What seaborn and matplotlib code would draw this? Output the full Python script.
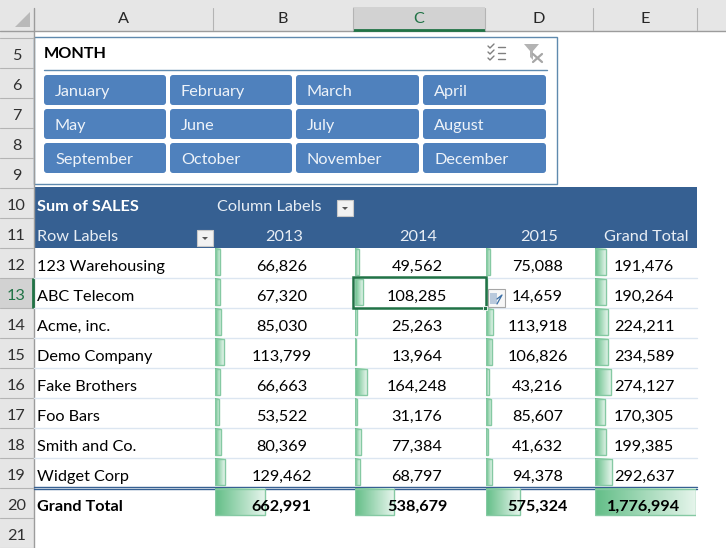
import numpy as np
import pandas as pd
import matplotlib
matplotlib.use("Agg")
import matplotlib.pyplot as plt
import seaborn as sns
from matplotlib.colors import LinearSegmentedColormap
from matplotlib.patches import FancyBboxPatch, Rectangle, Polygon

# --- data ---
companies = ["123 Warehousing", "ABC Telecom", "Acme, inc.", "Demo Company", "Fake Brothers",
             "Foo Bars", "Smith and Co.", "Widget Corp", "Grand Total"]
sales_2013 = [66826, 67320, 85030, 113799, 66663, 53522, 80369, 129462, 662991]
sales_2014 = [49562, 108285, 25263, 13964, 164248, 31176, 77384, 68797, 538679]
sales_2015 = [75088, 14659, 113918, 106826, 43216, 85607, 41632, 94378, 575324]
grand_total = [191476, 190264, 224211, 234589, 274127, 170305, 199385, 292637, 1776994]
year_labels = ["2013", "2014", "2015", "Grand Total"]
months = ["January", "February", "March", "April", "May", "June", "July", "August",
          "September", "October", "November", "December"]
col_letters = ["A", "B", "C", "D", "E"]
row_numbers = list(range(5, 22))

W, H = 726, 548
sns.set_theme(style="white")
plt.rcParams["font.family"] = ["Lato", "DejaVu Sans"]
FS = 11.7

df = pd.DataFrame({"company": companies, "2013": sales_2013, "2014": sales_2014,
                   "2015": sales_2015, "Grand Total": grand_total})

fig = plt.figure(figsize=(W / 100, H / 100), dpi=100, facecolor="white")


def pixel_axes(z):
    a = fig.add_axes([0, 0, 1, 1], zorder=z)
    a.set_xlim(0, W)
    a.set_ylim(H, 0)
    a.axis("off")
    a.patch.set_alpha(0)
    return a


back = pixel_axes(0)
top = pixel_axes(10)

# === sheet headers ===
head_col = "#e6e6e6"
head_line = "#b4b4b4"
back.add_patch(Rectangle((0, 0), W, 30.5, fc=head_col, ec="none"))
back.add_patch(Rectangle((0, 30), 33.5, H - 30, fc=head_col, ec="none"))
back.plot([0, W], [30.5, 30.5], color="#9c9c9c", lw=1)
back.plot([33.5, 33.5], [8, H], color="#9c9c9c", lw=1)
back.add_patch(Polygon([[30, 12], [30, 27], [15, 27]], fc="#b9b9b9", ec="none"))

col_edges = [33.5, 213, 353, 485, 593, 697]
back.add_patch(Rectangle((353, 7), 132, 23, fc="#d2d2d2", ec="none"))
back.plot([353, 485], [29.5, 29.5], color="#217346", lw=2, solid_capstyle="butt")
for xe in col_edges[1:]:
    back.plot([xe, xe], [8, 30], color=head_line, lw=0.8)
for i, letter in enumerate(col_letters):
    xc = (col_edges[i] + col_edges[i + 1]) / 2
    back.text(xc, 19, letter, ha="center", va="center", fontsize=FS,
              color="#217346" if letter == "C" else "#262626")

row_top = [37.6 + 30 * i for i in range(17)]
back.plot([0, 33], [37.6, 37.6], color=head_line, lw=0.8)
back.add_patch(Rectangle((0, row_top[8]), 33, 30, fc="#d2d2d2", ec="none"))
for i, num in enumerate(row_numbers):
    y0 = row_top[i]
    back.plot([0, 33], [y0 + 30, y0 + 30], color=head_line, lw=0.8)
    back.text(16.5, y0 + 18, str(num), ha="center", va="center", fontsize=FS,
              color="#217346" if num == 13 else "#303030")
back.plot([33, 33], [row_top[8], row_top[8] + 30], color="#217346", lw=2, solid_capstyle="butt")

# === slicer ===
frame = "#5f8aae"
back.add_patch(Rectangle((33.5, 36.5), 523.7, 147.7, fc="white", ec=frame, lw=1))
back.text(44, 54.5, "MONTH", fontsize=FS, fontweight="bold", va="center", color="black")
back.plot([44, 547], [69.5, 69.5], color=frame, lw=1)
btn_x = [44, 170, 296, 423]
btn_w = [122, 122, 123, 123]
btn_y = [75, 109, 143]
for i, month in enumerate(months):
    r, c = i // 4, i % 4
    back.add_patch(FancyBboxPatch((btn_x[c] + 2, btn_y[r] + 2), btn_w[c] - 4, 26,
                                  boxstyle="round,pad=2,rounding_size=3", fc="#4f81bd", ec="none"))
    back.text(btn_x[c] + 11, btn_y[r] + 17, month, fontsize=FS, va="center", color="#eef3f9")

# checklist icon
for yy in (47, 53, 59):
    back.plot([498, 505], [yy, yy], color="#7f7f7f", lw=1)
    back.plot([488, 490, 494], [yy - 1, yy + 1, yy - 3], color="#7f7f7f", lw=1)
# clear filter icon
back.add_patch(Polygon([[524, 44], [539, 44], [533, 51], [533, 60], [530, 57], [530, 51]],
                       fc="#b3b3b3", ec="none"))
back.plot([533, 542], [54, 62], color="#a6a6a6", lw=1.6)
back.plot([533, 542], [62, 54], color="#a6a6a6", lw=1.6)

# === pivot header ===
pivot = "#366092"
back.add_patch(Rectangle((33.5, 187), 663.5, 61, fc=pivot, ec="none"))
back.text(37, 207, "Sum of SALES", fontsize=FS, fontweight="bold", color="white", va="center")
back.text(217, 207, "Column Labels", fontsize=FS, color="#e8eef5", va="center")
back.text(37, 237, "Row Labels", fontsize=FS, color="#e8eef5", va="center")

head_cx = [284, 418, 539, 646]
cell_cx = [281.5, 417, 537.5, 644]
for xc, label in zip(head_cx, year_labels):
    back.text(xc, 237, label, ha="center", va="center", fontsize=FS, color="#e8eef5")

for bx, by in [(337, 200), (197, 230)]:
    back.add_patch(Rectangle((bx, by), 16, 16, fc="#f2f2f2", ec="#c8c8c8", lw=0.8))
    back.add_patch(Polygon([[bx + 5, by + 7], [bx + 11, by + 7], [bx + 8, by + 10]], fc="#555555", ec="none"))

# === pivot body ===
row_h = 30
body_top = 248
for i, name in enumerate(companies):
    yc = body_top + row_h * i + 15
    bold = name == "Grand Total"
    if i < 7:
        back.plot([33.5, 697], [yc + 15, yc + 15], color="#dce6f1", lw=1)
    top.text(37, yc + 4, name, fontsize=FS, va="center", color="black",
             fontweight="bold" if bold else "normal")
back.plot([33.5, 697], [487, 487], color="#366092", lw=1)
back.plot([33.5, 697], [489.3, 489.3], color="#366092", lw=1)

# === data bars, one small axes per column ===
bar_left = [215, 355, 486, 595]
bar_full = [134, 128, 104, 101]
green_fade = LinearSegmentedColormap.from_list("fade", ["#63be87", "#e6f5ec"])
gradient = np.linspace(0, 1, 128).reshape(1, -1)

for col, x0, full, xc in zip(year_labels, bar_left, bar_full, cell_cx):
    ax = fig.add_axes([x0 / W, 1 - (body_top - 1 + 9 * row_h) / H, full / W, 9 * row_h / H], zorder=5)
    sns.barplot(data=df, x=col, y="company", order=companies, ax=ax, width=0.87,
                color="#63be87", errorbar=None)
    ax.set_xlim(0, grand_total[-1])
    ylim = ax.get_ylim()
    for bar in ax.patches:
        bx, by, bw, bh = bar.get_x(), bar.get_y(), bar.get_width(), bar.get_height()
        ax.imshow(gradient, extent=[bx, bx + bw, by + bh, by], aspect="auto", cmap=green_fade,
                  vmin=0, vmax=1, zorder=1, interpolation="bilinear")
        bar.set_facecolor("none")
        bar.set_edgecolor("#85c9a3")
        bar.set_linewidth(1)
        bar.set_zorder(2)
    ax.set_xlim(0, grand_total[-1])
    ax.set_ylim(ylim)
    ax.axis("off")
    ax.patch.set_alpha(0)

    for i, val in enumerate(df[col]):
        top.text(xc, body_top + row_h * i + 19, f"{val:,}", ha="center", va="center", fontsize=FS,
                 color="black", fontweight="bold" if i == 8 else "normal")

# selected cell and quick analysis button
top.add_patch(Rectangle((353, 277), 132.5, 31, fc="none", ec="#217346", lw=1.8))
top.add_patch(Rectangle((482.5, 305.5), 4.5, 4.5, fc="#217346", ec="white", lw=0.6))
top.add_patch(Rectangle((488, 288.5), 17, 18, fc="#f7f7f7", ec="#a6a6a6", lw=0.8))
top.add_patch(Rectangle((490, 293), 7, 11, fc="#b9c9dc", ec="none"))
top.plot([497, 502, 497], [299, 295, 304], color="#3a6ea5", lw=0.9)

fig.savefig("out.png", dpi=100)
